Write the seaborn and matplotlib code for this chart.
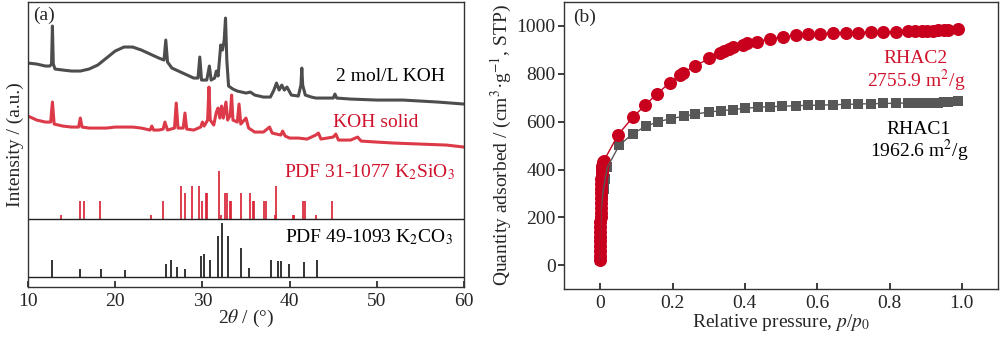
import matplotlib
matplotlib.use("Agg")
import matplotlib.pyplot as plt
import seaborn as sns
import pandas as pd
import numpy as np

# ---------------- data: panel (a) XRD ----------------
koh2m_2theta = [10.0, 11.0, 12.0, 12.5, 12.7, 12.8, 12.9, 13.1, 14.0, 15.0, 16.0, 17.0, 18.0, 19.0,
                20.0, 21.0, 22.0, 23.0, 24.0, 25.0, 25.6, 25.8, 26.0, 26.5, 27.0, 28.0, 29.0, 29.5,
                29.7, 29.9, 30.5, 30.8, 31.0, 31.4, 31.6, 31.8, 32.1, 32.3, 32.5, 32.65, 32.8, 33.0,
                33.5, 34.0, 35.0, 35.5, 36.0, 37.0, 37.8, 38.2, 38.5, 38.8, 39.1, 39.4, 39.7, 40.2,
                41.0, 41.3, 41.4, 41.5, 41.8, 42.5, 43.0, 44.0, 45.0, 45.2, 45.4, 47.0, 50.0, 53.0,
                55.0, 57.0, 60.0]
koh2m_int = [224, 223, 221, 221, 223, 261, 223, 218, 217, 216, 216, 218, 222, 229,
             236, 240, 240, 237, 233, 229, 227, 247, 225, 219, 217, 213, 209, 209,
             230, 207, 207, 221, 207, 209, 216, 211, 242, 237, 247, 269, 227, 201,
             198, 196, 194, 195, 192, 190, 190, 197, 204, 197, 202, 197, 200, 192,
             191, 202, 219, 202, 192, 190, 189, 189, 189, 193, 189, 188, 187, 187,
             186, 185, 183]

kohs_2theta = [10.0, 11.0, 12.0, 12.6, 12.8, 13.0, 14.0, 15.0, 15.8, 16.0, 16.2, 17.0, 18.0, 19.0,
               20.0, 21.0, 22.0, 23.0, 24.0, 24.2, 24.4, 25.0, 25.5, 25.7, 26.0, 26.8, 27.0, 27.2,
               27.8, 28.0, 28.2, 29.0, 29.8, 30.0, 30.2, 30.6, 30.75, 30.9, 31.3, 31.6, 31.8, 32.0,
               32.2, 32.4, 32.7, 32.9, 33.2, 33.35, 33.5, 34.0, 34.2, 34.4, 35.0, 35.3, 36.0, 37.0,
               37.7, 38.0, 39.0, 39.2, 39.5, 40.0, 41.0, 42.0, 43.0, 43.3, 43.6, 45.0, 45.3, 45.6,
               47.0, 47.8, 48.2, 50.0, 52.0, 55.0, 58.0, 60.0]
kohs_int = [171, 167, 165, 165, 185, 163, 161, 160, 160, 169, 160, 159, 159, 159,
            160, 160, 160, 159, 157, 161, 157, 157, 158, 165, 157, 159, 184, 159,
            159, 174, 158, 157, 160, 165, 161, 167, 200, 167, 162, 175, 179, 169,
            181, 169, 185, 167, 172, 192, 167, 165, 183, 163, 169, 159, 155, 155,
            160, 154, 152, 156, 151, 149, 149, 148, 152, 154, 148, 150, 153, 147,
            147, 150, 146, 145, 144, 143, 142, 140]

k2sio3_2theta = [13.83, 15.93, 16.47, 18.30, 24.15, 25.49, 27.56, 28.02, 28.78, 29.62, 29.97,
                 30.39, 30.50, 31.92, 32.15, 32.61, 32.80, 33.14, 33.26, 34.45, 35.44, 35.78,
                 35.94, 37.01, 37.31, 38.31, 38.42, 40.41, 40.55, 41.56, 41.79, 43.01, 44.85]
k2sio3_rel = [8, 38, 38, 38, 8, 38, 70, 55, 70, 70, 38,
              55, 55, 100, 8, 55, 55, 38, 38, 55, 55, 38,
              38, 38, 38, 8, 70, 8, 8, 38, 38, 8, 38]

k2co3_2theta = [12.79, 15.93, 18.34, 21.09, 25.84, 26.41, 27.06, 28.02, 29.82, 30.20, 30.85,
                31.77, 32.23, 32.88, 34.41, 35.40, 37.81, 38.69, 39.07, 39.95, 41.68, 43.13]
k2co3_rel = [32, 15, 15, 14, 25, 32, 19, 15, 40, 43, 32,
             77, 100, 77, 54, 17, 32, 30, 30, 25, 28, 32]

# ---------------- data: panel (b) N2 isotherms ----------------
rhac2_p = [0.0000, 0.0001, 0.0002, 0.0003, 0.0004, 0.0005, 0.0006, 0.0007, 0.0008, 0.0010,
           0.0012, 0.0014, 0.0016, 0.0019, 0.0022, 0.0026, 0.0030, 0.0035, 0.0040, 0.0046,
           0.0053, 0.0062, 0.0072, 0.0085, 0.0100,
           0.050, 0.090, 0.124, 0.156, 0.193, 0.222, 0.230, 0.263, 0.302, 0.330, 0.343,
           0.357, 0.367, 0.396, 0.405, 0.433, 0.469, 0.506, 0.541, 0.575, 0.608, 0.643,
           0.680, 0.714, 0.748, 0.783, 0.817, 0.850, 0.870, 0.890, 0.905, 0.920, 0.935,
           0.950, 0.963, 0.990]
rhac2_q = [20, 40, 60, 80, 100, 120, 140, 160, 180, 200,
           220, 240, 260, 280, 300, 320, 340, 360, 380, 395,
           405, 415, 423, 430, 436,
           546, 618, 668, 715, 763, 795, 805, 834, 864, 889, 897,
           905, 913, 922, 927, 934, 947, 954, 961, 965, 967, 970,
           971, 972, 975, 975, 976, 977, 978, 979, 980, 980, 981,
           982, 983, 989]

rhac1_p = [0.0000, 0.0002, 0.0004, 0.0007, 0.0010, 0.0015, 0.0022, 0.0030, 0.0045, 0.0065,
           0.0095, 0.0140, 0.0200,
           0.053, 0.090, 0.126, 0.160, 0.195, 0.231, 0.263, 0.300, 0.334, 0.366, 0.400,
           0.437, 0.469, 0.504, 0.541, 0.575, 0.608, 0.645, 0.680, 0.714, 0.748, 0.783,
           0.817, 0.850, 0.870, 0.890, 0.905, 0.920, 0.935, 0.950, 0.963, 0.990]
rhac1_q = [20, 50, 80, 110, 140, 170, 200, 230, 260, 290,
           320, 360, 410,
           502, 549, 581, 599, 613, 622, 632, 640, 646, 650, 656,
           660, 663, 664, 667, 668, 669, 671, 672, 674, 675, 676,
           677, 678, 678, 679, 679, 680, 680, 681, 681, 685]

# ---------------- style ----------------
sns.set_theme(style="ticks")
plt.rcParams["font.family"] = ["Liberation Serif", "DejaVu Serif"]
plt.rcParams["mathtext.fontset"] = "stix"
plt.rcParams["font.size"] = 14

FS = 14
GRAY = "#4d4d4d"
RED_TRACE = "#dc3a48"
RED = "#d0122c"
RED_MK = "#c8001e"
GRAY_MK = "#575757"

fig = plt.figure(figsize=(10, 3.37), dpi=100)
axa = fig.add_axes([0.028, 0.148, 0.436, 0.846])
axb = fig.add_axes([0.564, 0.142, 0.434, 0.852])

# ---------------- panel (a) ----------------
SIO3_BASE, SIO3_SCALE = 68, 0.477
CO3_BASE, CO3_SCALE = 10, 0.54

df_g = pd.DataFrame({"x": koh2m_2theta, "y": koh2m_int})
df_r = pd.DataFrame({"x": kohs_2theta, "y": kohs_int})
sns.lineplot(data=df_g, x="x", y="y", ax=axa, color=GRAY, lw=2.2, sort=False, estimator=None)
sns.lineplot(data=df_r, x="x", y="y", ax=axa, color=RED_TRACE, lw=2.2, sort=False, estimator=None)

axa.vlines(k2sio3_2theta, SIO3_BASE, SIO3_BASE + np.array(k2sio3_rel) * SIO3_SCALE,
           color="#d81e32", lw=1.2)
axa.vlines(k2co3_2theta, CO3_BASE, CO3_BASE + np.array(k2co3_rel) * CO3_SCALE,
           color="#111111", lw=1.2)
axa.axhline(SIO3_BASE, color="#222222", lw=1.0)
axa.axhline(CO3_BASE, color="#222222", lw=1.0)

axa.set_xlim(10, 60)
axa.set_ylim(0, 285)
axa.set_xticks([10, 20, 30, 40, 50, 60])
axa.set_yticks([])
axa.tick_params(axis="x", direction="in", length=4, labelsize=FS, pad=4)
axa.set_xlabel(r"2$\theta$ / (°)", fontsize=FS, labelpad=-1)
axa.set_ylabel("Intensity / (a.u.)", fontsize=FS, labelpad=3)
for s in axa.spines.values():
    s.set_color("#333333")
    s.set_linewidth(1.0)

axa.text(0.011, 0.954, "(a)", transform=axa.transAxes, fontsize=FS, va="center", ha="left")
axa.text(57.8, 211, "2 mol/L KOH", color="black", fontsize=FS, ha="right", va="center")
axa.text(54.8, 165, "KOH solid", color=RED, fontsize=FS, ha="right", va="center")
axa.text(58.96, 115, r"PDF 31-1077 K$_2$SiO$_3$", color=RED, fontsize=FS, ha="right", va="center")
axa.text(58.7, 50, r"PDF 49-1093 K$_2$CO$_3$", color="black", fontsize=FS, ha="right", va="center")

# ---------------- panel (b) ----------------
df1 = pd.DataFrame({"p": rhac1_p, "q": rhac1_q})
df2 = pd.DataFrame({"p": rhac2_p, "q": rhac2_q})
sns.lineplot(data=df1, x="p", y="q", ax=axb, color=GRAY_MK, lw=1.0, sort=False, estimator=None)
sns.scatterplot(data=df1, x="p", y="q", ax=axb, color=GRAY_MK, marker="s", s=62, linewidth=0)
sns.lineplot(data=df2, x="p", y="q", ax=axb, color=RED_MK, lw=1.0, sort=False, estimator=None)
sns.scatterplot(data=df2, x="p", y="q", ax=axb, color=RED_MK, marker="o", s=88, linewidth=0)

axb.set_xlim(-0.1, 1.1)
axb.set_ylim(-100, 1100)
axb.set_xticks([0, 0.2, 0.4, 0.6, 0.8, 1.0])
axb.set_xticklabels(["0", "0.2", "0.4", "0.6", "0.8", "1.0"])
axb.set_yticks([0, 200, 400, 600, 800, 1000])
axb.tick_params(axis="x", direction="in", length=4, labelsize=FS, pad=4)
axb.tick_params(axis="y", direction="out", length=4, labelsize=FS, pad=2)
axb.set_xlabel(r"Relative pressure, $p$/$p_0$", fontsize=FS, labelpad=0)
axb.set_ylabel(r"Quantity adsorbed / (cm$^3$·g$^{-1}$, STP)", fontsize=FS, labelpad=2)
for s in axb.spines.values():
    s.set_color("#333333")
    s.set_linewidth(1.0)

axb.text(0.021, 0.948, "(b)", transform=axb.transAxes, fontsize=FS, va="center", ha="left")
axb.text(0.873, 863, "RHAC2", color=RED, fontsize=FS, ha="center", va="center")
axb.text(0.873, 772, r"2755.9 m$^2$/g", color=RED, fontsize=FS, ha="center", va="center")
axb.text(0.881, 568, "RHAC1", color="black", fontsize=FS, ha="center", va="center")
axb.text(0.881, 477, r"1962.6 m$^2$/g", color="black", fontsize=FS, ha="center", va="center")

fig.savefig("out.png", dpi=100)
